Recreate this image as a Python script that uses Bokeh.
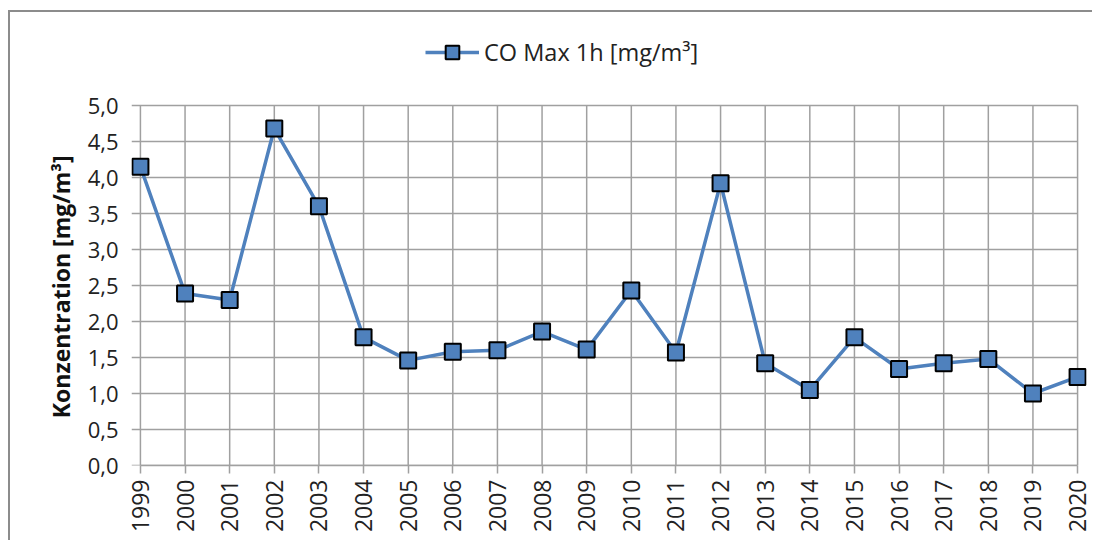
from bokeh.plotting import figure
from bokeh.models import FixedTicker, CustomJSTickFormatter, Range1d, Legend, LegendItem
from bokeh.embed import file_html
from bokeh.resources import INLINE
import math

years = list(range(1999, 2021))
co_max = [4.15, 2.39, 2.30, 4.68, 3.60, 1.78, 1.46, 1.58, 1.60, 1.86, 1.61,
          2.43, 1.57, 3.92, 1.42, 1.05, 1.78, 1.34, 1.42, 1.48, 1.00, 1.23]
y_ticks = [0.0, 0.5, 1.0, 1.5, 2.0, 2.5, 3.0, 3.5, 4.0, 4.5, 5.0]
series_label = "CO Max 1h [mg/m³]"
y_label = "Konzentration [mg/m³]"

FONT = "Open Sans"
GRID = "#a0a0a0"
BLUE = "#4f81bd"
PAD = 0.2
Y_TOP = 453 / 72.0  # room above 5,0 for the legend inside the frame

x0 = years[0] - PAD
x1 = years[-1] + PAD
ymin, ymax = y_ticks[0], y_ticks[-1]

p = figure(width=1084, height=530, output_backend="svg", toolbar_location=None,
           x_range=Range1d(x0, x1), y_range=Range1d(ymin, Y_TOP),
           min_border_left=121, min_border_right=8, min_border_top=0, min_border_bottom=77,
           outline_line_color=None,
           styles={"border-top": "2px solid #8c8c8c", "border-left": "2px solid #8c8c8c",
                   "margin-top": "10px", "margin-left": "8px"})

# horizontal grid lines (from frame edge, incl. tick stub, to last year)
p.segment(x0=[x0] * len(y_ticks), y0=y_ticks, x1=[years[-1]] * len(y_ticks), y1=y_ticks,
          line_color=GRID, line_width=1.5)
# vertical grid lines (0 to 5)
p.segment(x0=years, y0=[ymin] * len(years), x1=years, y1=[ymax] * len(years),
          line_color=GRID, line_width=1.5)

r_line = p.line(years, co_max, line_color=BLUE, line_width=3.5)
r_pts = p.scatter(years, co_max, marker="square", size=16, fill_color=BLUE,
                  line_color="black", line_width=2)

xt = FixedTicker(ticks=years)
yt = FixedTicker(ticks=y_ticks)
p.xaxis.ticker = xt
p.yaxis.ticker = yt
p.xgrid.visible = False
p.ygrid.visible = False

p.yaxis.formatter = CustomJSTickFormatter(code="return tick.toFixed(1).replace('.', ',');")
p.xaxis.formatter = CustomJSTickFormatter(code="return tick.toFixed(0);")

for ax in (p.xaxis, p.yaxis):
    ax.minor_tick_line_color = None
    ax.major_label_text_font = FONT
    ax.major_label_text_font_size = "22px"
    ax.major_label_text_color = "#222222"

p.xaxis.major_label_text_font_size = "23px"
p.xaxis.axis_line_color = GRID
p.xaxis.axis_line_width = 1.5
p.xaxis.bounds = (years[0], years[-1])
p.xaxis.major_tick_line_color = GRID
p.xaxis.major_tick_line_width = 1.5
p.xaxis.major_tick_out = 8
p.xaxis.major_tick_in = 0
p.xaxis.major_label_orientation = math.pi / 2
p.xaxis.major_label_standoff = 6

p.yaxis.axis_line_color = None
p.yaxis.bounds = (ymin, ymax)
p.yaxis.major_tick_line_color = None
p.yaxis.major_tick_out = 0
p.yaxis.major_tick_in = 0
p.yaxis.major_label_standoff = 13

# trailing no-break spaces centre the visible label on the 0..5 span
p.yaxis.axis_label = y_label + "\u00a0" * 16
p.yaxis.axis_label_text_font = FONT
p.yaxis.axis_label_text_font_style = "bold"
p.yaxis.axis_label_text_font_size = "23px"
p.yaxis.axis_label_text_color = "#111111"
p.yaxis.axis_label_standoff = 8

lg = Legend(items=[LegendItem(label=series_label, renderers=[r_line, r_pts])],
            location=(294, 396), orientation="horizontal")
lg.padding = 0
lg.margin = 0
lg.spacing = 0
lg.glyph_width = 54
lg.glyph_height = 34
lg.label_height = 34
lg.label_standoff = 5
lg.label_text_font = FONT
lg.label_text_font_size = "23.5px"
lg.label_text_color = "#222222"
lg.border_line_alpha = 0
lg.background_fill_alpha = 0
p.add_layout(lg, "center")

open("out.html", "w").write(file_html(p, INLINE))
